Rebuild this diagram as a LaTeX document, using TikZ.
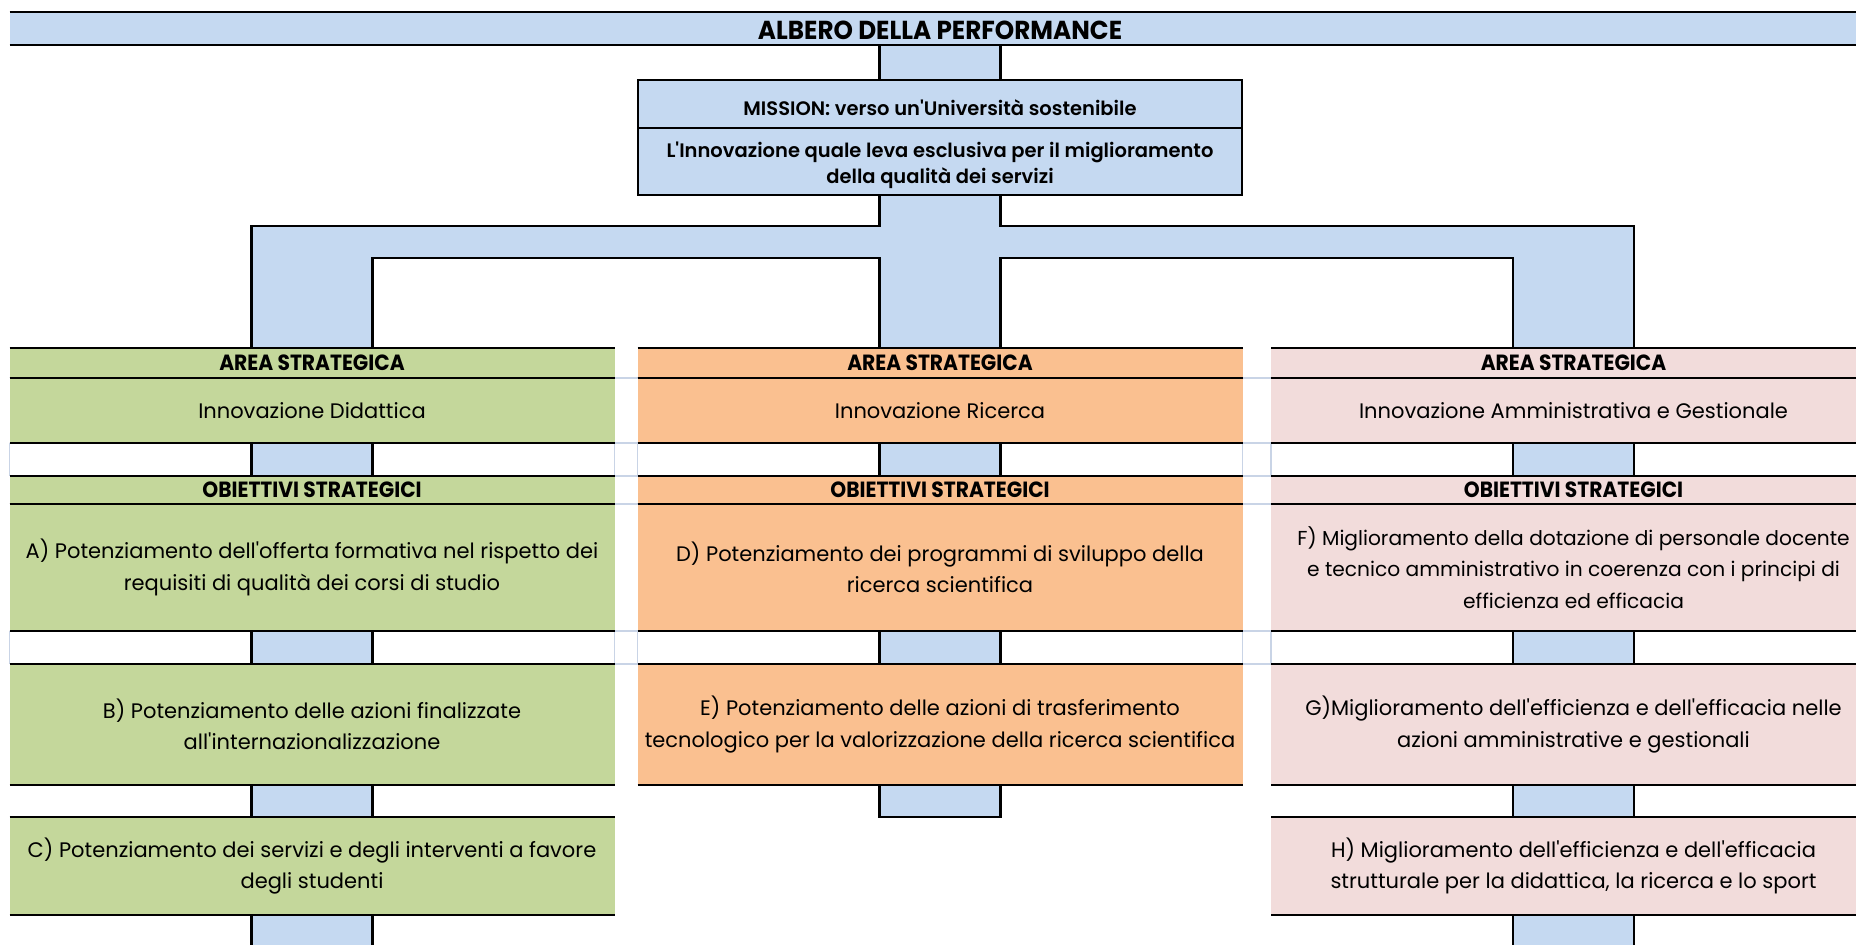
\documentclass[tikz,border=0pt]{standalone}
\usepackage{fontspec}
\setmainfont{Poppins}[Ligatures=TeXOff]
\newfontfamily\hdrfont{Poppins}[FakeStretch=0.92, Ligatures=TeXOff]
\newfontfamily\titlefont{Poppins}[FakeStretch=0.95, Ligatures=TeXOff]
\newfontfamily\missfont{Poppins SemiBold}[Ligatures=TeXOff]
\usetikzlibrary{calc}
\definecolor{cblue}{HTML}{C5D9F1}
\definecolor{cgreen}{HTML}{C4D79B}
\definecolor{corange}{HTML}{FAC090}
\definecolor{cpink}{HTML}{F2DCDB}
\definecolor{cgrid}{HTML}{C9D4E6}
\tikzset{
  ln/.style={line width=2.6pt, black},
  gridln/.style={line width=1.3pt, cgrid},
  box/.style={rectangle, inner sep=0pt, outer sep=0pt, anchor=north, minimum width=605pt, align=center},
  cell/.style={box, font=\fontsize{21}{31.5}\selectfont},
  hdr/.style={box, minimum height=30pt, font=\hdrfont\bfseries\fontsize{22}{24}\selectfont},
  missbox/.style={box, fill=cblue, minimum width=604pt},
  misstext/.style={inner sep=0pt, align=center, font=\missfont\fontsize{19.5}{26}\selectfont},
}
\newcommand\vstrip[2]{%
  \fill[cblue] ([xshift=-60.5pt]#1.south) rectangle ([xshift=60.5pt]#2.north);
  \draw[ln] ([xshift=-60.5pt]#1.south) -- ([xshift=-60.5pt]#2.north);
  \draw[ln] ([xshift=60.5pt]#1.south) -- ([xshift=60.5pt]#2.north);}
\begin{document}
\begin{tikzpicture}[x=1pt,y=-1pt]
\useasboundingbox (0,0) rectangle (1856,945);
\clip (0,0) rectangle (1856,945);
\fill[white] (0,0) rectangle (1856,945);

% title band
\node[box, fill=cblue, minimum width=1861pt, minimum height=33pt] (title) at (940,12) {};
\node[inner sep=0pt, font=\titlefont\bfseries\fontsize{26}{28}\selectfont] (titletext)
  at ([yshift=-2pt]title.center) {ALBERO DELLA PERFORMANCE};

% mission box
\node[missbox, minimum height=48pt] (mission) at (940,80) {};
\node[missbox, minimum height=67pt] (missionsub) at (940,128) {};
\node[misstext] (missionlbl) at ([yshift=-3.5pt]mission.center) {MISSION: verso un'Università sostenibile};
\node[misstext] (missionsublbl) at ([yshift=-3.5pt]missionsub.center) {L'Innovazione quale leva esclusiva per il miglioramento\\della qualità dei servizi};

% green column
\node[hdr, fill=cgreen] (gH1) at (312,348) {AREA STRATEGICA};
\node[cell, fill=cgreen, minimum height=65pt] (gArea) at (312,378) {Innovazione Didattica};
\node[hdr, fill=cgreen, minimum height=28pt] (gH2) at (312,476) {OBIETTIVI STRATEGICI};
\node[cell, fill=cgreen, minimum height=127pt] (gA) at (312,504) {A) Potenziamento dell'offerta formativa nel rispetto dei\\requisiti di qualità dei corsi di studio};
\node[cell, fill=cgreen, minimum height=121pt] (gB) at (312,664) {B) Potenziamento delle azioni finalizzate\\all'internazionalizzazione};
\node[cell, fill=cgreen, minimum height=98pt] (gC) at (312,817) {C) Potenziamento dei servizi e degli interventi a favore\\degli studenti};

% orange column
\node[hdr, fill=corange] (oH1) at (940,348) {AREA STRATEGICA};
\node[cell, fill=corange, minimum height=65pt] (oArea) at (940,378) {Innovazione Ricerca};
\node[hdr, fill=corange, minimum height=28pt] (oH2) at (940,476) {OBIETTIVI STRATEGICI};
\node[cell, fill=corange, minimum height=127pt] (oD) at (940,504) {D) Potenziamento dei programmi di sviluppo della\\ricerca scientifica};
\node[cell, fill=corange, minimum height=121pt] (oE) at (940,664) {E) Potenziamento delle azioni di trasferimento\\tecnologico per la valorizzazione della ricerca scientifica};

% pink column
\node[hdr, fill=cpink] (pH1) at (1573.5,348) {AREA STRATEGICA};
\node[cell, fill=cpink, minimum height=65pt] (pArea) at (1573.5,378) {Innovazione Amministrativa e Gestionale};
\node[hdr, fill=cpink, minimum height=28pt] (pH2) at (1573.5,476) {OBIETTIVI STRATEGICI};
\node[cell, fill=cpink, minimum height=127pt, font=\fontsize{20.2}{31.5}\selectfont] (pF) at (1573.5,504) {F) Miglioramento della dotazione di personale docente\\e tecnico amministrativo in coerenza con i principi di\\efficienza ed efficacia};
\node[cell, fill=cpink, minimum height=121pt] (pG) at (1573.5,664) {G)Miglioramento dell'efficienza e dell'efficacia nelle\\azioni amministrative e gestionali};
\node[cell, fill=cpink, minimum height=98pt] (pH) at (1573.5,817) {H) Miglioramento dell'efficienza e dell'efficacia\\strutturale per la didattica, la ricerca e lo sport};

% free ends
\coordinate (gEnd) at (312,960);
\coordinate (pEnd) at (1573.5,960);
\coordinate (oEnd) at (940,817);

% light grid lines in the gaps
\foreach \l/\r in {gArea/oArea, oArea/pArea, gH2/oH2, oH2/pH2} {
  \draw[gridln] (\l.north east) -- (\r.north west);
  \draw[gridln] (\l.south east) -- (\r.south west);
}
\foreach \l/\r in {gA/oD, oD/pF} {
  \draw[gridln] (\l.south east) -- (\r.south west);
}
\foreach \l/\r in {gB/oE, oE/pG} {
  \draw[gridln] (\l.north east) -- (\r.north west);
}
\foreach \u/\d in {gArea/gH2, oArea/oH2, pArea/pH2, gA/gB, oD/oE, pF/pG} {
  \draw[gridln] (\u.south east) -- (\d.north east);
  \draw[gridln] (\u.south west) -- (\d.north west);
}

% connector strips
\vstrip{title}{mission}
\vstrip{gArea}{gH2}
\vstrip{gA}{gB}
\vstrip{gB}{gC}
\vstrip{gC}{gEnd}
\vstrip{oArea}{oH2}
\vstrip{oD}{oE}
\vstrip{pArea}{pH2}
\vstrip{pF}{pG}
\vstrip{pG}{pH}
\vstrip{pH}{pEnd}
\fill[cblue] ([xshift=-60.5pt]oE.south) rectangle ([xshift=60.5pt]oEnd);
\draw[ln] ([xshift=-60.5pt]oE.south) -- ([xshift=-60.5pt]oEnd) -- ([xshift=60.5pt]oEnd) -- ([xshift=60.5pt]oE.south);

% branching connector
\coordinate (cL) at ([xshift=-60.5pt]missionsub.south);
\coordinate (cR) at ([xshift=60.5pt]missionsub.south);
\coordinate (gL) at ([xshift=-60.5pt]gH1.north);
\coordinate (gR) at ([xshift=60.5pt]gH1.north);
\coordinate (oL) at ([xshift=-60.5pt]oH1.north);
\coordinate (oR) at ([xshift=60.5pt]oH1.north);
\coordinate (pL) at ([xshift=-60.5pt]pH1.north);
\coordinate (pR) at ([xshift=60.5pt]pH1.north);
\coordinate (barT) at (0,226);
\coordinate (barB) at (0,258);
\fill[cblue] (cL) -- (cL |- barT) -- (gL |- barT) -- (gL) -- (gR) -- (gR |- barB) -- (oL |- barB) -- (oL)
  -- (oR) -- (oR |- barB) -- (pL |- barB) -- (pL) -- (pR) -- (pR |- barT) -- (cR |- barT) -- (cR) -- cycle;
\draw[ln] (cL) -- (cL |- barT) -- (gL |- barT) -- (gL);
\draw[ln] (gR) -- (gR |- barB) -- (oL |- barB) -- (oL);
\draw[ln] (oR) -- (oR |- barB) -- (pL |- barB) -- (pL);
\draw[ln] (pR) -- (pR |- barT) -- (cR |- barT) -- (cR);

% black rules of the cells
\foreach \n in {title, gH1, gArea, gH2, gA, gB, gC, oH1, oArea, oH2, oD, oE, pH1, pArea, pH2, pF, pG, pH} {
  \draw[ln] (\n.north west) -- (\n.north east);
  \draw[ln] (\n.south west) -- (\n.south east);
}
\draw[ln] (mission.north west) rectangle (missionsub.south east);
\draw[ln] (mission.south west) -- (mission.south east);
\end{tikzpicture}
\end{document}
